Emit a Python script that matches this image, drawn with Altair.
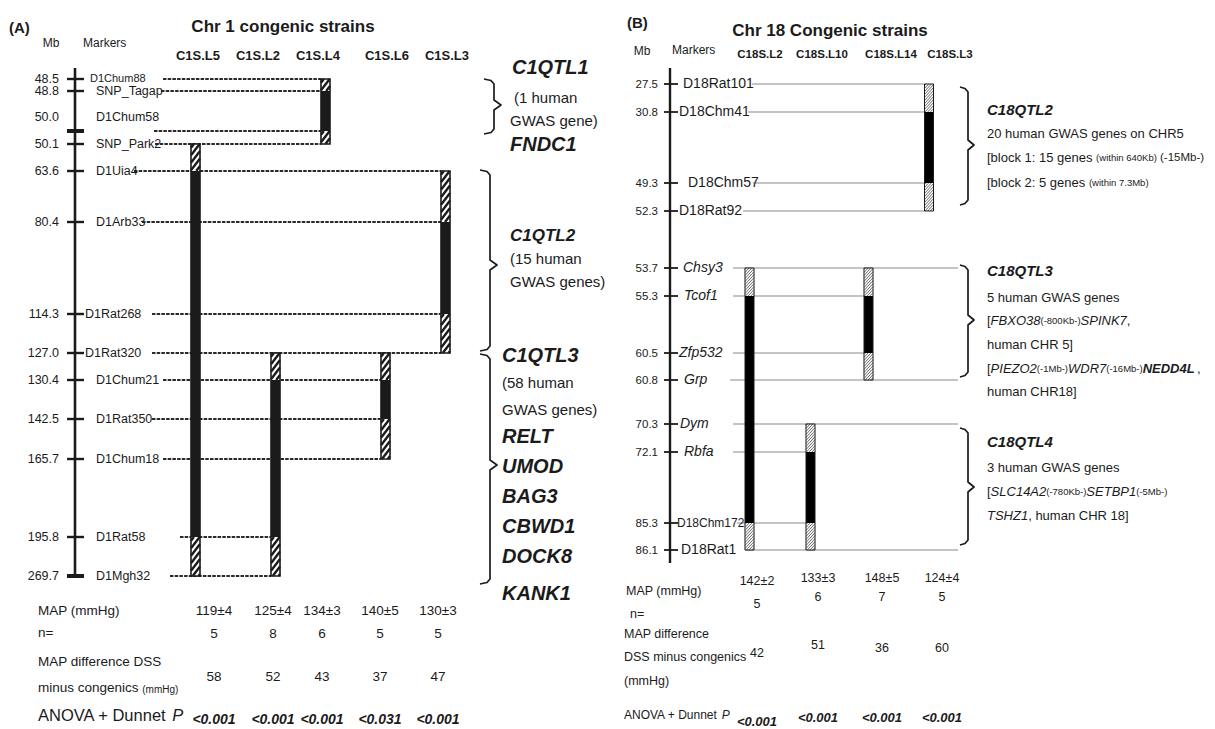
import altair as alt
import pandas as pd

FONT = "Liberation Sans"
INK = "#1b1b1b"

# ======================= DATA =======================
# ---- Panel A : chromosome 1 congenic strains ----
a_markers = ["D1Chum88", "SNP_Tagap", "D1Chum58", "SNP_Park2", "D1Uia4", "D1Arb33", "D1Rat268",
             "D1Rat320", "D1Chum21", "D1Rat350", "D1Chum18", "D1Rat58", "D1Mgh32"]
a_mb = ["48.5", "48.8", "50.0", "50.1", "63.6", "80.4", "114.3", "127.0", "130.4", "142.5",
        "165.7", "195.8", "269.7"]
a_strains = ["C1S.L5", "C1S.L2", "C1S.L4", "C1S.L6", "C1S.L3"]
a_map = ["119±4", "125±4", "134±3", "140±5", "130±3"]
a_n = ["5", "8", "6", "5", "5"]
a_diff = ["58", "52", "43", "37", "47"]
a_p = ["<0.001", "<0.001", "<0.001", "<0.031", "<0.001"]
# strain, from marker, to marker, kind (flank = hatched, core = solid)
a_segments = [
    ("C1S.L5", "SNP_Park2", "D1Uia4", "flank"), ("C1S.L5", "D1Uia4", "D1Rat58", "core"),
    ("C1S.L5", "D1Rat58", "D1Mgh32", "flank"),
    ("C1S.L2", "D1Rat320", "D1Chum21", "flank"), ("C1S.L2", "D1Chum21", "D1Rat58", "core"),
    ("C1S.L2", "D1Rat58", "D1Mgh32", "flank"),
    ("C1S.L4", "D1Chum88", "SNP_Tagap", "flank"), ("C1S.L4", "SNP_Tagap", "D1Chum58", "core"),
    ("C1S.L4", "D1Chum58", "SNP_Park2", "flank"),
    ("C1S.L6", "D1Rat320", "D1Chum21", "flank"), ("C1S.L6", "D1Chum21", "D1Rat350", "core"),
    ("C1S.L6", "D1Rat350", "D1Chum18", "flank"),
    ("C1S.L3", "D1Uia4", "D1Arb33", "flank"), ("C1S.L3", "D1Arb33", "D1Rat268", "core"),
    ("C1S.L3", "D1Rat268", "D1Rat320", "flank"),
]
a_qtl_text = [
    [("C1QTL1", "bi"), ("(1 human", "r"), ("GWAS gene)", "r"), ("FNDC1", "bi")],
    [("C1QTL2", "bi2"), ("(15 human", "r"), ("GWAS genes)", "r")],
    [("C1QTL3", "bi"), ("(58 human", "r"), ("GWAS genes)", "r"), ("RELT", "bi"), ("UMOD", "bi"),
     ("BAG3", "bi"), ("CBWD1", "bi"), ("DOCK8", "bi"), ("KANK1", "bi")],
]

# ---- Panel B : chromosome 18 congenic strains ----
b_markers = ["D18Rat101", "D18Chm41", "D18Chm57", "D18Rat92", "Chsy3", "Tcof1", "Zfp532", "Grp",
             "Dym", "Rbfa", "D18Chm172", "D18Rat1"]
b_gene_markers = ["Chsy3", "Tcof1", "Zfp532", "Grp", "Dym", "Rbfa"]
b_mb = ["27.5", "30.8", "49.3", "52.3", "53.7", "55.3", "60.5", "60.8", "70.3", "72.1", "85.3", "86.1"]
b_strains = ["C18S.L2", "C18S.L10", "C18S.L14", "C18S.L3"]
b_map = ["142±2", "133±3", "148±5", "124±4"]
b_n = ["5", "6", "7", "5"]
b_diff = ["42", "51", "36", "60"]
b_p = ["<0.001", "<0.001", "<0.001", "<0.001"]
b_segments = [
    ("C18S.L2", "Chsy3", "Tcof1", "flank"), ("C18S.L2", "Tcof1", "D18Chm172", "core"),
    ("C18S.L2", "D18Chm172", "D18Rat1", "flank"),
    ("C18S.L10", "Dym", "Rbfa", "flank"), ("C18S.L10", "Rbfa", "D18Chm172", "core"),
    ("C18S.L10", "D18Chm172", "D18Rat1", "flank"),
    ("C18S.L14", "Chsy3", "Tcof1", "flank"), ("C18S.L14", "Tcof1", "Zfp532", "core"),
    ("C18S.L14", "Zfp532", "Grp", "flank"),
    ("C18S.L3", "D18Rat101", "D18Chm41", "flank"), ("C18S.L3", "D18Chm41", "D18Chm57", "core"),
    ("C18S.L3", "D18Chm57", "D18Rat92", "flank"),
]
b_qtl_bounds = ["Chsy3", "Grp", "Dym", "D18Rat1"]
# rich text: list of lines, each a list of (text, style)
b_qtl_text = [
    [[("C18QTL2", "bi")],
     [("20 human GWAS genes on CHR5", "r")],
     [("[block 1: 15 genes ", "r"), ("(within 640Kb)", "s"), (" (-15Mb-)", "r12")],
     [("[block 2: 5 genes ", "r"), ("(within 7.3Mb)", "s")]],
    [[("C18QTL3", "bi")],
     [("5 human GWAS genes", "r")],
     [("[", "r"), ("FBXO38", "i"), ("(-800Kb-)", "s"), ("SPINK7", "i"), (",", "r")],
     [("human CHR 5]", "r")],
     [("[", "r"), ("PIEZO2", "i"), ("(-1Mb-)", "s"), ("WDR7", "i"), ("(-16Mb-)", "s"),
      ("NEDD4L", "bi13"), (",", "r")],
     [("human CHR18]", "r")]],
    [[("C18QTL4", "bi")],
     [("3 human GWAS genes", "r")],
     [("[", "r"), ("SLC14A2", "i"), ("(-780Kb-)", "s"), ("SETBP1", "i"), ("(-5Mb-)", "s")],
     [("TSHZ1", "i"), (", human CHR 18]", "r")]],
]

# ======================= LAYOUT (pixel frame of the figure) =======================
a_row_y = [79, 91, 131, 144, 171, 222, 314, 353, 380, 419, 459, 537, 576]
a_label_y = [79, 91, 117, 144, 171, 222, 314, 353, 380, 419, 459, 537, 576]
a_label_x = [90, 96, 96, 96, 96, 96, 85, 85, 96, 96, 96, 96, 96]
a_line_x0 = [163, 161, 154, 155, 134, 142, 152, 152, 163, 152, 163, 180, 170]
a_bar_x = [195.5, 275.5, 325.5, 385.5, 445.5]
a_head_x = [198, 258, 318, 387, 447]
a_tab_x = [214, 273, 322, 380, 438]
a_brace = [(494, 79, 134, 105), (490, 170, 351, 265), (490, 354, 584, 465)]
a_qtl_y = [[68, 98, 121, 145], [236, 259, 282], [356, 383, 410, 437, 467, 497, 527, 557, 594]]
a_qtl_x = [[512, 514, 510, 510], [510, 510, 510], [502] * 9]

b_row_y = [84, 112, 183, 211, 268, 296, 353, 380, 424, 452, 523, 550]
b_label_x = [683, 679, 688, 679, 683, 684, 679, 684, 680, 684, 677, 681]
b_line_x0 = [752, 748, 753, 743, 733, 733, 733, 730, 733, 733, 737, 745]
b_bar_x = [749.5, 810.5, 868.5, 929]
b_head_x = [760, 822, 891, 950]
b_tab_x = [757, 818, 882, 942]
b_brace = [(968, 87, 205, 145), (968, 265, 377, 320), (968, 428, 545, 487)]
b_qtl_y = [[110, 134, 158, 183], [271, 298, 321, 345, 369, 392], [442, 468, 492, 516]]
b_qtl_x0 = 987

# ======================= helpers =======================
AW = {' ': 278, '!': 278, '(': 333, ')': 333, ',': 278, '-': 333, '.': 278, ':': 278, '[': 278,
      ']': 278, '±': 584, '=': 584, '+': 584, '<': 584,
      'A': 667, 'B': 667, 'C': 722, 'D': 722, 'E': 667, 'F': 611, 'G': 778, 'H': 722, 'I': 278,
      'J': 500, 'K': 667, 'L': 556, 'M': 833, 'N': 722, 'O': 778, 'P': 667, 'Q': 778, 'R': 722,
      'S': 667, 'T': 611, 'U': 722, 'V': 667, 'W': 944, 'X': 667, 'Y': 667, 'Z': 611,
      'a': 556, 'b': 556, 'c': 500, 'd': 556, 'e': 556, 'f': 278, 'g': 556, 'h': 556, 'i': 222,
      'j': 222, 'k': 500, 'l': 222, 'm': 833, 'n': 556, 'o': 556, 'p': 556, 'q': 556, 'r': 333,
      's': 500, 't': 278, 'u': 556, 'v': 500, 'w': 722, 'x': 500, 'y': 500, 'z': 500}


def tw(s, size, bold=False):
    return sum(AW.get(c, 556) for c in s) * size / 1000.0 * (1.06 if bold else 1.0)


texts = []


def T(text, x, y, size, weight="normal", style="normal", align="left", color=INK):
    texts.append(dict(text=text, x=x, y=y, size=size, weight=weight, fstyle=style,
                      align=align, color=color))


STY = {"r": (13, "normal", "normal"), "r12": (11.5, "normal", "normal"), "s": (9.5, "normal", "normal"),
       "i": (13, "normal", "italic"), "bi": (15, "bold", "italic"), "bi13": (13, "bold", "italic")}


def runs(x0, y, parts):
    x = x0
    for text, st in parts:
        size, w, s = STY[st]
        core = text.strip()
        x += tw(text[:len(text) - len(text.lstrip())], size)   # leading blanks
        T(core, x, y, size, w, s)
        x += tw(text.lstrip(), size, w == "bold")


def hatch(x0, x1, y0, y1, step, k):
    out = []
    w = x1 - x0
    c = y0 + step * 0.5
    while c < y1 + k * w:
        ta = max(0.0, (c - y1) / k)
        tb = min(w, (c - y0) / k)
        if tb > ta:
            out.append((x0 + ta, c - k * ta, x0 + tb, c - k * tb))
        c += step
    return out


def brace(x, y0, y1, ym, hook, tip):
    return [(x - hook, y0), (x - 3, y0 + 1.5), (x, y0 + 5), (x, ym - 5), (x + tip, ym),
            (x, ym + 5), (x, y1 - 5), (x - 3, y1 - 1.5), (x - hook, y1)]


solid, dashed, rects, outlines, hatches, braces = [], [], [], [], [], []

# ---------- Panel A geometry ----------
solid.append(dict(x=75, y=68, x2=75, y2=577, sw=2.6, col=INK))
for i, m in enumerate(a_markers):
    y = a_row_y[i]
    sw = 4 if m in ("D1Chum58", "D1Mgh32") else 2.4
    solid.append(dict(x=67, y=y, x2=84, y2=y, sw=sw, col=INK))
    # dashed marker line to the right-most strain that uses this marker
    idx = [a_strains.index(s) for s, f, t, k in a_segments if m in (f, t)]
    xe = a_bar_x[max(idx)] - 4.5
    dashed.append(dict(x=a_line_x0[i], y=y, x2=xe, y2=y))
for s, f, t, kind in a_segments:
    xc = a_bar_x[a_strains.index(s)]
    y0, y1 = a_row_y[a_markers.index(f)], a_row_y[a_markers.index(t)]
    rects.append(dict(x=xc - 4.5, x2=xc + 4.5, y=y0, y2=y1, fill=INK if kind == "core" else "white"))
    if kind == "flank":
        for h in hatch(xc - 4.5, xc + 4.5, y0, y1, 7.5, 1.3):
            hatches.append(dict(x=h[0], y=h[1], x2=h[2], y2=h[3], sw=2.4, col=INK))
for s in a_strains:
    xc = a_bar_x[a_strains.index(s)]
    ys = [a_row_y[a_markers.index(m)] for st, f, t, k in a_segments if st == s for m in (f, t)]
    outlines.append(dict(x=xc - 4.5, x2=xc + 4.5, y=min(ys), y2=max(ys), sw=1.6))
for j, (bx, y0, y1, ym) in enumerate(a_brace):
    for o, (px, py) in enumerate(brace(bx, y0, y1, ym, 10, 7)):
        braces.append(dict(x=px, y=py, id=f"a{j}", o=o))

# ---------- Panel B geometry ----------
solid.append(dict(x=670, y=68, x2=670, y2=563, sw=2.4, col=INK))
for i, m in enumerate(b_markers):
    y = b_row_y[i]
    solid.append(dict(x=664, y=y, x2=678, y2=y, sw=1.8, col=INK))
    idx = [b_strains.index(s) for s, f, t, k in b_segments if m in (f, t)]
    xe = 958 if m in b_qtl_bounds else b_bar_x[max(idx)] - 4.5
    solid.append(dict(x=b_line_x0[i], y=y, x2=xe, y2=y, sw=1.1, col="#8a8a8a"))
for s, f, t, kind in b_segments:
    xc = b_bar_x[b_strains.index(s)]
    y0, y1 = b_row_y[b_markers.index(f)], b_row_y[b_markers.index(t)]
    rects.append(dict(x=xc - 4.5, x2=xc + 4.5, y=y0, y2=y1, fill="black" if kind == "core" else "white"))
    if kind == "flank":
        for h in hatch(xc - 4.5, xc + 4.5, y0, y1, 3.0, 1.1):
            hatches.append(dict(x=h[0], y=h[1], x2=h[2], y2=h[3], sw=0.8, col="#444444"))
for s in b_strains:
    xc = b_bar_x[b_strains.index(s)]
    ys = [b_row_y[b_markers.index(m)] for st, f, t, k in b_segments if st == s for m in (f, t)]
    outlines.append(dict(x=xc - 4.5, x2=xc + 4.5, y=min(ys), y2=max(ys), sw=1.0))
for j, (bx, y0, y1, ym) in enumerate(b_brace):
    for o, (px, py) in enumerate(brace(bx, y0, y1, ym, 8, 6)):
        braces.append(dict(x=px, y=py, id=f"b{j}", o=o))

# ---------- Panel A text ----------
T("(A)", 9, 28, 15, "bold")
T("Mb", 51, 43, 12, align="center")
T("Markers", 83, 43, 12)
T("Chr 1 congenic strains", 283, 27, 17, "bold", align="center")
for i, s in enumerate(a_strains):
    T(s, a_head_x[i], 56, 13, "bold", align="center")
for i, m in enumerate(a_markers):
    T(a_mb[i], 59, a_label_y[i], 12.5, align="right")
    T(m, a_label_x[i], a_label_y[i], 11 if i == 0 else 12.5)
for q, items in enumerate(a_qtl_text):
    for k, (txt, st) in enumerate(items):
        if st == "r":
            T(txt, a_qtl_x[q][k], a_qtl_y[q][k], 15)
        elif st == "bi2":
            T(txt, a_qtl_x[q][k], a_qtl_y[q][k], 17, "bold", "italic")
        else:
            T(txt, a_qtl_x[q][k], a_qtl_y[q][k], 20, "bold", "italic")
T("MAP (mmHg)", 38, 611, 13.5)
T("n=", 38, 633, 13.5)
T("MAP difference DSS", 38, 662, 13.5)
T("minus congenics", 38, 688, 13.5)
T("(mmHg)", 38 + tw("minus congenics ", 13.5), 690, 10)
T("ANOVA + Dunnet", 38, 716, 16.5)
T("P", 38 + tw("ANOVA + Dunnet ", 16.5), 716, 16.5, style="italic")
for i in range(len(a_strains)):
    T(a_map[i], a_tab_x[i], 611, 13.5, align="center")
    T(a_n[i], a_tab_x[i], 634, 13.5, align="center")
    T(a_diff[i], a_tab_x[i], 677, 13.5, align="center")
    T(a_p[i], a_tab_x[i], 720, 14, "bold", "italic", align="center")

# ---------- Panel B text ----------
T("(B)", 627, 23, 15, "bold")
T("Chr 18 Congenic strains", 830, 31, 17, "bold", align="center")
T("Mb", 642, 51, 12, align="center")
T("Markers", 672, 50, 12)
for i, s in enumerate(b_strains):
    T(s, b_head_x[i], 55, 11.5, "bold", align="center")
for i, m in enumerate(b_markers):
    T(b_mb[i], 658, b_row_y[i] + 1, 11.5, align="right")
    if m in b_gene_markers:
        T(m, b_label_x[i], b_row_y[i], 14, style="italic")
    else:
        T(m, b_label_x[i], b_row_y[i], 12 if m == "D18Chm172" else 14)
for q, lines in enumerate(b_qtl_text):
    for k, parts in enumerate(lines):
        runs(b_qtl_x0, b_qtl_y[q][k], parts)
T("MAP (mmHg)", 626, 591, 12.5)
T("n=", 630, 614, 12.5)
T("MAP difference", 624, 634, 12.5)
T("DSS minus congenics", 624, 657, 12.5)
T("(mmHg)", 624, 681, 12.5)
T("ANOVA + Dunnet", 624, 715, 12)
T("P", 624 + tw("ANOVA + Dunnet ", 12), 715, 12, style="italic")
b_map_y = [581, 578, 578, 578]
b_n_y = [604, 597, 597, 597]
b_diff_y = [653, 645, 648, 648]
b_p_y = [722, 718, 718, 718]
for i in range(len(b_strains)):
    T(b_map[i], b_tab_x[i], b_map_y[i], 12.5, align="center")
    T(b_n[i], b_tab_x[i], b_n_y[i], 12.5, align="center")
    T(b_diff[i], b_tab_x[i], b_diff_y[i], 12.5, align="center")
    T(b_p[i], b_tab_x[i], b_p_y[i], 13, "bold", "italic", align="center")

# ======================= CHART =======================
XS = alt.Scale(domain=[8, 1207], nice=False, zero=False)
YS = alt.Scale(domain=[8, 728], nice=False, zero=False, reverse=True)
X = lambda f="x": alt.X(f"{f}:Q", scale=XS, axis=None)
Y = lambda f="y": alt.Y(f"{f}:Q", scale=YS, axis=None)

layers = []
layers.append(alt.Chart(pd.DataFrame(dashed)).mark_rule(
    color="#2a2a2a", strokeWidth=2.2, strokeDash=[3.5, 1.2]).encode(
    x=X(), y=Y(), x2="x2:Q", y2="y2:Q"))
layers.append(alt.Chart(pd.DataFrame(solid)).mark_rule().encode(
    x=X(), y=Y(), x2="x2:Q", y2="y2:Q",
    strokeWidth=alt.StrokeWidth("sw:Q", scale=None),
    color=alt.Color("col:N", scale=None)))
layers.append(alt.Chart(pd.DataFrame(rects)).mark_rect().encode(
    x=X(), y=Y(), x2="x2:Q", y2="y2:Q", color=alt.Color("fill:N", scale=None)))
layers.append(alt.Chart(pd.DataFrame(hatches)).mark_rule(strokeCap="butt").encode(
    x=X(), y=Y(), x2="x2:Q", y2="y2:Q",
    strokeWidth=alt.StrokeWidth("sw:Q", scale=None),
    color=alt.Color("col:N", scale=None)))
layers.append(alt.Chart(pd.DataFrame(outlines)).mark_rect(
    fillOpacity=0, stroke=INK).encode(
    x=X(), y=Y(), x2="x2:Q", y2="y2:Q",
    strokeWidth=alt.StrokeWidth("sw:Q", scale=None)))
layers.append(alt.Chart(pd.DataFrame(braces)).mark_line(
    color=INK, strokeWidth=1.7, strokeJoin="round").encode(
    x=X(), y=Y(), detail="id:N", order="o:Q"))

tdf = pd.DataFrame(texts)
for (w, s, a, c), g in tdf.groupby(["weight", "fstyle", "align", "color"]):
    layers.append(alt.Chart(g.reset_index(drop=True)).mark_text(
        font=FONT, fontWeight=w, fontStyle=s, align=a, baseline="middle", color=c).encode(
        x=X(), y=Y(), text="text:N", size=alt.Size("size:Q", scale=None)))

chart = alt.layer(*layers).properties(
    width=1199, height=720, padding=0,
    autosize=alt.AutoSizeParams(type="none"),
    background="white",
).configure_view(stroke=None)

chart.save("out.html", embed_options={"renderer": "svg", "actions": False})
